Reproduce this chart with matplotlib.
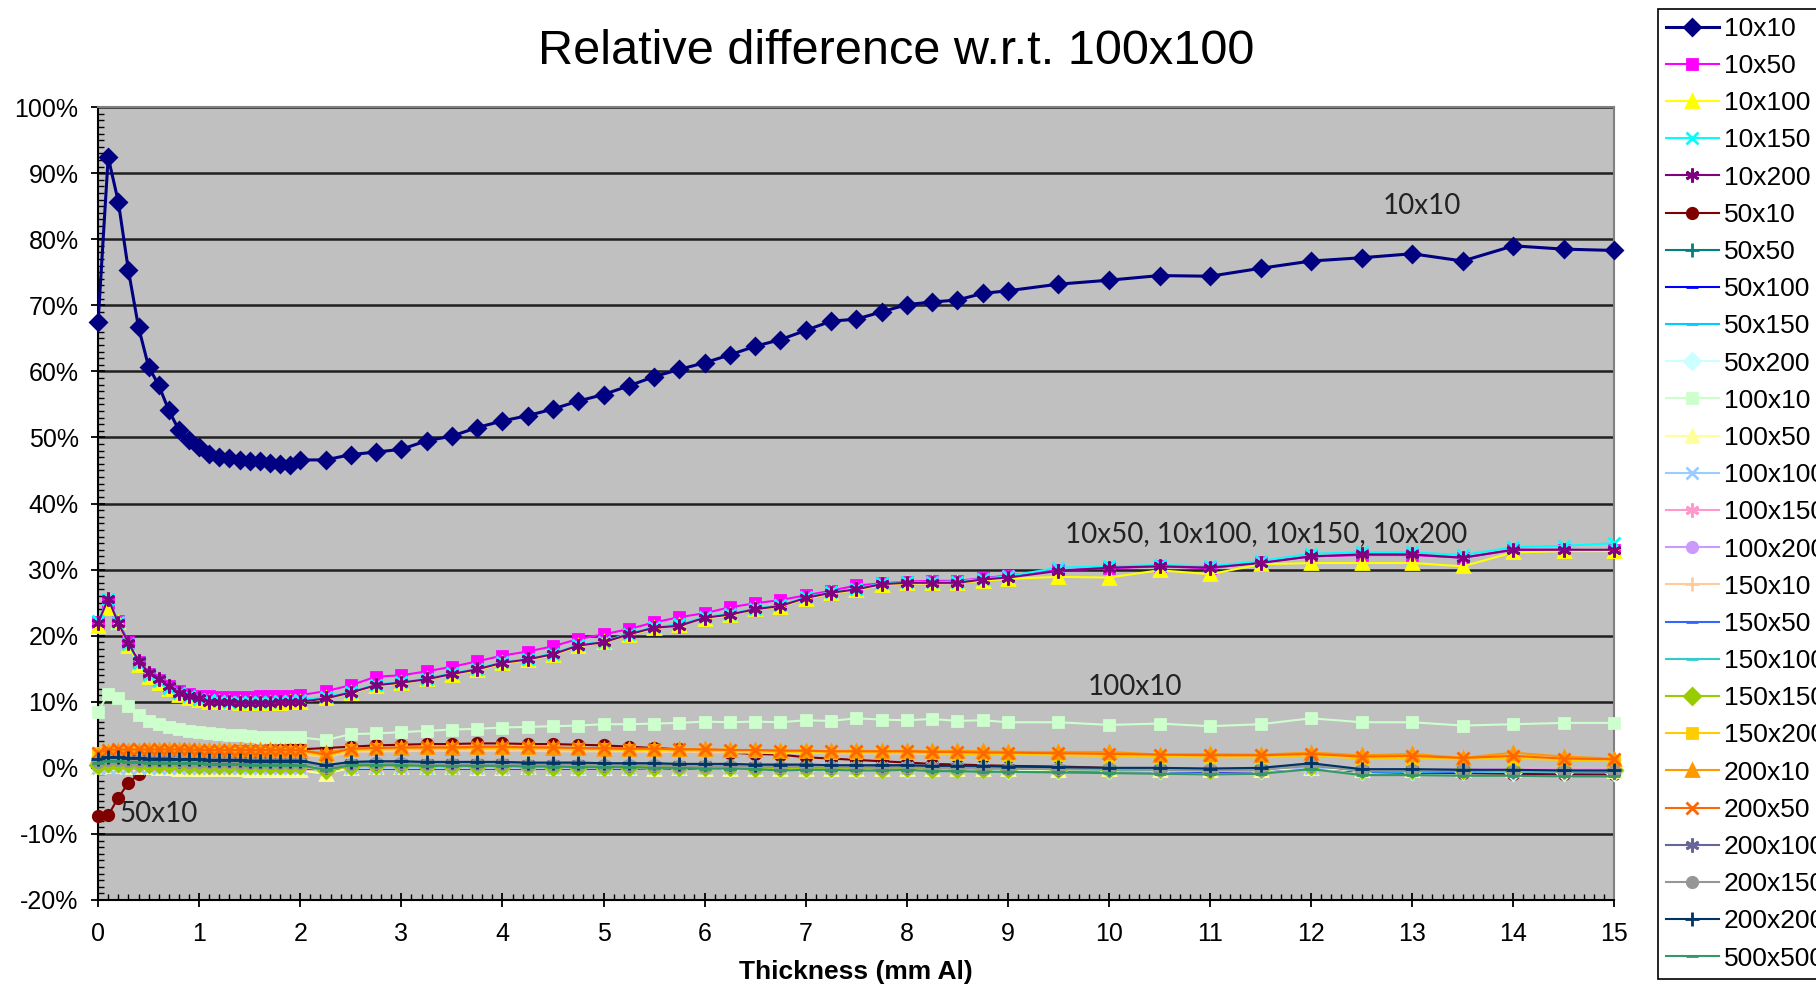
import matplotlib
matplotlib.use("Agg")
import matplotlib.pyplot as plt
from matplotlib.ticker import MultipleLocator, FuncFormatter

plt.rcParams['font.family'] = ['Liberation Sans', 'DejaVu Sans']

# thickness grid (mm Al)
thickness = [0.0, 0.1, 0.2, 0.3, 0.4, 0.5, 0.6, 0.7, 0.8, 0.9, 1.0, 1.1, 1.2, 1.3, 1.4, 1.5, 1.6, 1.7, 1.8, 1.9, 2.0,
             2.25, 2.5, 2.75, 3.0, 3.25, 3.5, 3.75, 4.0, 4.25, 4.5, 4.75, 5.0, 5.25, 5.5, 5.75, 6.0, 6.25, 6.5, 6.75,
             7.0, 7.25, 7.5, 7.75, 8.0, 8.25, 8.5, 8.75, 9.0,
             9.5, 10.0, 10.5, 11.0, 11.5, 12.0, 12.5, 13.0, 13.5, 14.0, 14.5, 15.0]

# relative difference in %
d_10x10 = [67.4, 92.4, 85.7, 75.3, 66.7, 60.7, 57.9, 54.1, 51.1, 49.6, 48.6, 47.5, 47.1, 46.9, 46.6, 46.4, 46.4, 46.1, 46.0, 45.9, 46.6,
           46.6, 47.4, 47.8, 48.2, 49.5, 50.2, 51.5, 52.5, 53.3, 54.3, 55.5, 56.5, 57.8, 59.2, 60.3, 61.3, 62.5, 63.8, 64.8,
           66.2, 67.6, 67.9, 69.0, 70.1, 70.5, 70.8, 71.8, 72.2,
           73.2, 73.8, 74.5, 74.4, 75.6, 76.7, 77.2, 77.8, 76.7, 79.0, 78.5, 78.3]
d_10x50 = [22.0, 25.0, 22.2, 19.0, 16.0, 14.2, 13.3, 12.4, 11.6, 11.1, 10.9, 10.8, 10.7, 10.7, 10.7, 10.7, 10.8, 10.8, 10.9, 10.9, 11.0,
           11.6, 12.5, 13.8, 14.0, 14.6, 15.3, 16.1, 17.0, 17.6, 18.4, 19.5, 20.2, 21.0, 22.0, 22.8, 23.4, 24.3, 24.9, 25.4,
           26.1, 26.8, 27.6, 27.9, 28.2, 28.3, 28.3, 28.7, 29.1,
           29.9, 30.2, 30.5, 30.2, 31.1, 32.0, 32.2, 32.2, 31.8, 33.0, 33.0, 32.9]
d_10x100 = [21.5, 24.2, 22.0, 18.5, 15.6, 13.8, 12.8, 11.9, 11.0, 10.5, 10.2, 10.0, 9.9, 9.9, 9.8, 9.8, 9.8, 9.8, 9.8, 9.9, 10.0,
            10.5, 11.3, 12.4, 12.8, 13.4, 14.1, 14.8, 15.8, 16.3, 17.1, 18.4, 19.0, 20.1, 21.1, 21.6, 22.6, 23.1, 24.0, 24.4,
            25.6, 26.4, 26.9, 27.7, 27.9, 27.9, 28.0, 28.3, 28.6,
            28.9, 28.8, 29.9, 29.3, 30.8, 31.0, 31.0, 31.0, 30.5, 32.6, 32.8, 32.8]
d_10x150 = [22.2, 25.6, 22.1, 18.8, 15.9, 14.0, 13.1, 12.1, 11.3, 10.8, 10.4, 10.2, 10.1, 10.0, 10.0, 10.0, 10.0, 10.0, 10.1, 10.1, 10.3,
            10.7, 11.5, 12.6, 13.0, 13.5, 14.3, 15.0, 16.0, 16.5, 17.3, 18.6, 19.1, 20.3, 21.3, 21.7, 22.8, 23.3, 24.1, 24.6,
            25.8, 26.6, 27.1, 27.9, 28.1, 28.1, 28.2, 28.6, 29.0,
            30.3, 30.5, 30.7, 30.5, 31.3, 32.4, 32.6, 32.6, 32.2, 33.4, 33.6, 34.0]
d_10x200 = [21.9, 25.6, 21.9, 18.9, 16.2, 14.4, 13.4, 12.4, 11.4, 10.9, 10.5, 10.0, 9.9, 9.9, 9.8, 9.8, 9.8, 9.8, 9.9, 9.9, 10.0,
            10.5, 11.4, 12.5, 12.9, 13.4, 14.2, 14.9, 15.9, 16.4, 17.2, 18.5, 19.0, 20.2, 21.2, 21.5, 22.7, 23.2, 24.0, 24.5,
            25.7, 26.5, 27.0, 27.8, 28.0, 28.0, 28.0, 28.5, 28.8,
            29.8, 30.3, 30.5, 30.3, 31.0, 32.0, 32.3, 32.3, 31.8, 33.0, 33.0, 33.0]
d_50x10 = [-7.3, -7.2, -4.5, -2.3, -1.0, 0.2, 1.0, 1.5, 1.8, 2.0, 2.2, 2.3, 2.4, 2.5, 2.5, 2.6, 2.6, 2.7, 2.7, 2.8, 2.8,
           3.0, 3.2, 3.4, 3.5, 3.6, 3.6, 3.7, 3.7, 3.6, 3.6, 3.5, 3.4, 3.2, 3.0, 2.8, 2.6, 2.3, 2.1, 2.0,
           1.6, 1.4, 1.2, 1.0, 0.8, 0.6, 0.5, 0.4, 0.3,
           0.2, 0.0, -0.2, -0.3, -0.4, 0.2, -0.6, -0.7, -0.8, -0.9, -1.0, -1.0]
d_50x50 = [1.0, 1.3, 1.2, 1.2, 1.1, 1.1, 1.0, 1.0, 1.0, 0.9, 0.9, 0.9, 0.9, 0.8, 0.8, 0.8, 0.8, 0.8, 0.7, 0.7, 0.7,
           0.0, 0.6, 0.7, 0.7, 0.6, 0.6, 0.6, 0.6, 0.5, 0.5, 0.5, 0.4, 0.4, 0.4, 0.3, 0.3, 0.2, 0.2, 0.0,
           0.1, 0.1, 0.1, 0.0, 0.1, 0.0, 0.0, -0.1, -0.1,
           -0.2, -0.3, -0.3, -0.4, -0.3, 0.3, -0.5, -0.5, -0.5, -0.6, -0.6, -0.7]
d_50x100 = [0.8, 1.1, 1.1, 1.0, 1.0, 0.9, 0.9, 0.9, 0.8, 0.8, 0.8, 0.8, 0.7, 0.7, 0.7, 0.7, 0.7, 0.6, 0.6, 0.6, 0.6,
            -0.1, 0.5, 0.5, 0.5, 0.5, 0.4, 0.4, 0.4, 0.4, 0.3, 0.3, 0.3, 0.2, 0.2, 0.2, 0.1, 0.1, 0.0, -0.1,
            0.0, 0.0, -0.1, -0.1, 0.0, -0.2, -0.2, -0.2, -0.3,
            -0.4, -0.5, -0.5, -0.6, -0.5, 0.2, -0.6, -0.7, -0.6, -0.8, -0.8, -0.8]
d_50x150 = [0.9, 1.2, 1.1, 1.1, 1.0, 1.0, 0.9, 0.9, 0.9, 0.8, 0.8, 0.8, 0.8, 0.7, 0.7, 0.7, 0.7, 0.7, 0.6, 0.6, 0.6,
            0.0, 0.5, 0.6, 0.6, 0.5, 0.5, 0.4, 0.4, 0.4, 0.4, 0.3, 0.3, 0.3, 0.2, 0.2, 0.1, 0.1, 0.0, -0.1,
            0.0, -0.1, -0.1, -0.2, -0.1, -0.2, -0.2, -0.3, -0.3,
            -0.4, -0.4, -0.5, -0.5, -0.4, 0.3, -0.5, -0.6, -0.5, -0.6, -0.7, -0.7]
d_50x200 = [0.6, 0.9, 0.9, 0.8, 0.8, 0.8, 0.7, 0.7, 0.7, 0.7, 0.6, 0.6, 0.6, 0.6, 0.6, 0.5, 0.5, 0.5, 0.5, 0.5, 0.5,
            -0.2, 0.4, 0.4, 0.4, 0.4, 0.3, 0.3, 0.3, 0.3, 0.2, 0.2, 0.2, 0.2, 0.1, 0.1, 0.1, 0.0, 0.0, -0.1,
            -0.1, -0.1, -0.1, -0.2, -0.1, -0.2, -0.2, -0.2, -0.3,
            -0.3, -0.4, -0.4, -0.4, -0.4, 0.1, -0.5, -0.5, -0.5, -0.6, -0.6, -0.6]
d_100x10 = [8.5, 11.2, 10.6, 9.3, 8.0, 7.1, 6.6, 6.2, 5.9, 5.6, 5.4, 5.2, 5.1, 5.0, 4.9, 4.8, 4.7, 4.7, 4.6, 4.6, 4.6,
            4.2, 5.1, 5.2, 5.4, 5.6, 5.8, 5.9, 6.1, 6.2, 6.3, 6.4, 6.6, 6.6, 6.7, 6.8, 7.0, 6.9, 7.0, 6.9,
            7.2, 7.1, 7.5, 7.3, 7.2, 7.4, 7.1, 7.2, 6.9,
            6.9, 6.5, 6.7, 6.3, 6.6, 7.5, 6.9, 6.9, 6.4, 6.6, 6.8, 6.8]
d_100x50 = [0.2, 0.3, 0.3, 0.2, 0.2, 0.1, 0.0, 0.0, -0.1, -0.1, -0.1, -0.2, -0.2, -0.2, -0.2, -0.3, -0.3, -0.3, -0.3, -0.4, -0.4,
            -0.9, 0.0, 0.1, 0.1, 0.1, 0.1, 0.0, 0.0, 0.1, 0.0, 0.0, 0.0, 0.0, -0.1, 0.0, -0.1, -0.1, -0.1, -0.2,
            -0.1, -0.1, -0.2, -0.1, -0.2, -0.2, -0.2, -0.2, -0.2,
            -0.3, -0.2, -0.3, -0.3, -0.3, 0.0, -0.4, -0.3, -0.4, -0.4, -0.4, -0.5]
d_100x100 = [0.0, 0.0, 0.0, 0.0, 0.0, 0.0, 0.0, 0.0, 0.0, 0.0, 0.0, 0.0, 0.0, 0.0, 0.0, 0.0, 0.0, 0.0, 0.0, 0.0, 0.0,
             0.0, 0.0, 0.0, 0.0, 0.0, 0.0, 0.0, 0.0, 0.0, 0.0, 0.0, 0.0, 0.0, 0.0, 0.0, 0.0, 0.0, 0.0, 0.0,
             0.0, 0.0, 0.0, 0.0, 0.0, 0.0, 0.0, 0.0, 0.0,
             0.0, 0.0, 0.0, 0.0, 0.0, 0.0, 0.0, 0.0, 0.0, 0.0, 0.0, 0.0]
d_100x150 = [0.3, 0.5, 0.5, 0.4, 0.4, 0.4, 0.3, 0.3, 0.3, 0.3, 0.3, 0.2, 0.2, 0.2, 0.2, 0.2, 0.2, 0.2, 0.2, 0.1, 0.1,
             -0.3, 0.2, 0.2, 0.2, 0.2, 0.1, 0.1, 0.1, 0.1, 0.1, 0.1, 0.1, 0.1, 0.0, 0.0, 0.0, 0.0, 0.0, 0.0,
             0.0, 0.0, 0.0, -0.1, 0.0, -0.1, -0.1, 0.0, -0.1,
             -0.1, -0.1, -0.1, -0.1, -0.1, 0.2, -0.1, -0.2, -0.1, -0.2, -0.2, -0.2]
d_100x200 = [0.4, 0.6, 0.6, 0.5, 0.5, 0.5, 0.4, 0.4, 0.4, 0.4, 0.3, 0.3, 0.3, 0.3, 0.3, 0.3, 0.3, 0.2, 0.2, 0.2, 0.2,
             -0.2, 0.3, 0.3, 0.3, 0.2, 0.2, 0.2, 0.2, 0.2, 0.2, 0.1, 0.1, 0.1, 0.1, 0.1, 0.0, 0.1, 0.0, 0.0,
             0.0, 0.0, 0.0, -0.1, 0.0, -0.1, -0.1, -0.1, -0.1,
             -0.2, -0.2, -0.2, -0.2, -0.2, 0.2, -0.2, -0.3, -0.2, -0.3, -0.3, -0.3]
d_150x10 = [1.6, 2.0, 2.1, 2.1, 2.1, 2.1, 2.1, 2.1, 2.1, 2.1, 2.1, 2.1, 2.1, 2.1, 2.1, 2.1, 2.1, 2.1, 2.1, 2.1, 2.1,
            1.6, 2.4, 2.5, 2.5, 2.6, 2.6, 2.6, 2.6, 2.6, 2.5, 2.5, 2.5, 2.5, 2.4, 2.4, 2.4, 2.3, 2.3, 2.2,
            2.3, 2.2, 2.2, 2.2, 2.2, 2.1, 2.1, 2.1, 2.1,
            2.1, 2.0, 1.9, 1.9, 1.8, 2.1, 1.7, 1.7, 1.6, 1.7, 1.5, 1.4]
d_150x50 = [1.2, 1.5, 1.5, 1.4, 1.4, 1.3, 1.3, 1.3, 1.2, 1.2, 1.2, 1.1, 1.1, 1.1, 1.1, 1.0, 1.0, 1.0, 1.0, 1.0, 1.0,
            0.3, 0.8, 0.9, 0.9, 0.8, 0.8, 0.8, 0.8, 0.7, 0.7, 0.7, 0.6, 0.6, 0.6, 0.5, 0.5, 0.4, 0.4, 0.3,
            0.3, 0.3, 0.3, 0.2, 0.3, 0.2, 0.2, 0.1, 0.1,
            0.0, -0.1, -0.1, -0.2, -0.1, 0.5, -0.3, -0.3, -0.3, -0.4, -0.4, -0.5]
d_150x100 = [1.0, 1.3, 1.3, 1.2, 1.2, 1.1, 1.1, 1.1, 1.0, 1.0, 1.0, 1.0, 0.9, 0.9, 0.9, 0.9, 0.9, 0.8, 0.8, 0.8, 0.8,
             0.1, 0.7, 0.7, 0.7, 0.7, 0.6, 0.6, 0.6, 0.5, 0.5, 0.5, 0.4, 0.4, 0.4, 0.3, 0.3, 0.2, 0.2, 0.1,
             0.2, 0.1, 0.1, 0.0, 0.1, 0.0, 0.0, -0.1, -0.1,
             -0.2, -0.3, -0.3, -0.4, -0.3, 0.4, -0.5, -0.5, -0.5, -0.6, -0.6, -0.7]
d_150x150 = [0.5, 0.8, 0.8, 0.7, 0.7, 0.6, 0.6, 0.6, 0.6, 0.5, 0.5, 0.5, 0.5, 0.5, 0.4, 0.4, 0.4, 0.4, 0.4, 0.4, 0.4,
             -0.4, 0.3, 0.4, 0.4, 0.3, 0.3, 0.3, 0.3, 0.3, 0.2, 0.2, 0.2, 0.2, 0.1, 0.1, 0.1, 0.1, 0.0, 0.0,
             0.0, 0.0, 0.0, -0.1, 0.0, -0.1, -0.1, -0.1, -0.1,
             -0.2, -0.2, -0.2, -0.3, -0.2, 0.3, -0.3, -0.3, -0.3, -0.4, -0.4, -0.4]
d_150x200 = [2.2, 2.6, 2.6, 2.6, 2.6, 2.5, 2.5, 2.5, 2.5, 2.5, 2.5, 2.5, 2.5, 2.5, 2.4, 2.4, 2.4, 2.4, 2.4, 2.4, 2.4,
             1.8, 2.7, 2.8, 2.8, 2.9, 2.9, 2.9, 2.9, 2.9, 2.8, 2.8, 2.8, 2.7, 2.7, 2.6, 2.6, 2.5, 2.5, 2.4,
             2.4, 2.3, 2.3, 2.2, 2.3, 2.2, 2.1, 2.1, 2.0,
             1.9, 1.8, 1.7, 1.6, 1.6, 1.9, 1.4, 1.4, 1.3, 1.4, 1.2, 1.1]
d_200x10 = [2.0, 2.4, 2.5, 2.6, 2.6, 2.7, 2.7, 2.7, 2.7, 2.7, 2.7, 2.7, 2.7, 2.7, 2.7, 2.7, 2.7, 2.7, 2.6, 2.6, 2.6,
            2.3, 2.9, 3.0, 3.0, 3.1, 3.0, 3.1, 3.1, 3.1, 3.0, 3.0, 2.8, 2.9, 2.9, 2.8, 2.8, 2.7, 2.7, 2.6,
            2.6, 2.5, 2.6, 2.5, 2.6, 2.5, 2.6, 2.5, 2.4,
            2.4, 2.4, 2.0, 2.1, 2.0, 2.3, 1.9, 2.1, 1.5, 2.3, 1.7, 1.4]
d_200x50 = [2.3, 2.7, 2.8, 2.8, 2.8, 2.8, 2.8, 2.8, 2.8, 2.8, 2.7, 2.7, 2.7, 2.7, 2.7, 2.7, 2.7, 2.7, 2.7, 2.7, 2.7,
            2.0, 2.9, 3.0, 3.1, 3.1, 3.1, 3.2, 3.2, 3.1, 3.1, 3.0, 3.0, 2.9, 2.9, 2.8, 2.8, 2.7, 2.7, 2.6,
            2.6, 2.5, 2.5, 2.5, 2.5, 2.4, 2.4, 2.3, 2.3,
            2.2, 2.1, 2.0, 1.9, 1.9, 2.1, 1.7, 1.8, 1.5, 1.8, 1.4, 1.3]
d_200x100 = [1.1, 1.4, 1.4, 1.3, 1.3, 1.2, 1.2, 1.2, 1.1, 1.1, 1.1, 1.1, 1.0, 1.0, 1.0, 1.0, 1.0, 0.9, 0.9, 0.9, 0.9,
             0.2, 0.7, 0.8, 0.8, 0.7, 0.7, 0.7, 0.7, 0.6, 0.6, 0.6, 0.5, 0.5, 0.5, 0.4, 0.4, 0.3, 0.3, 0.2,
             0.3, 0.2, 0.2, 0.1, 0.2, 0.1, 0.1, 0.0, 0.0,
             -0.1, -0.2, -0.2, -0.3, -0.2, 0.4, -0.4, -0.4, -0.4, -0.5, -0.5, -0.6]
d_200x150 = [0.9, 1.2, 1.2, 1.1, 1.1, 1.0, 1.0, 1.0, 1.0, 0.9, 0.9, 0.9, 0.9, 0.9, 0.8, 0.8, 0.8, 0.8, 0.8, 0.8, 0.8,
             0.1, 0.6, 0.7, 0.7, 0.6, 0.6, 0.6, 0.6, 0.5, 0.5, 0.5, 0.4, 0.4, 0.4, 0.3, 0.3, 0.3, 0.2, 0.1,
             0.2, 0.1, 0.1, 0.0, 0.1, 0.0, 0.0, -0.1, -0.1,
             -0.2, -0.2, -0.3, -0.3, -0.3, 0.4, -0.4, -0.4, -0.4, -0.5, -0.5, -0.5]
d_200x200 = [1.3, 1.6, 1.6, 1.5, 1.5, 1.4, 1.4, 1.4, 1.3, 1.3, 1.3, 1.2, 1.2, 1.2, 1.2, 1.1, 1.1, 1.1, 1.1, 1.1, 1.1,
             0.4, 0.9, 1.0, 1.0, 0.9, 0.9, 0.9, 0.9, 0.8, 0.8, 0.8, 0.7, 0.7, 0.7, 0.6, 0.6, 0.6, 0.5, 0.5,
             0.5, 0.4, 0.4, 0.4, 0.4, 0.3, 0.3, 0.3, 0.2,
             0.1, 0.0, 0.0, -0.1, 0.0, 0.7, -0.2, -0.2, -0.3, -0.3, -0.4, -0.4]
d_500x500 = [0.8, 1.0, 1.0, 0.9, 0.9, 0.8, 0.8, 0.8, 0.7, 0.7, 0.7, 0.6, 0.6, 0.6, 0.6, 0.5, 0.5, 0.5, 0.5, 0.5, 0.4,
             -0.3, 0.4, 0.4, 0.4, 0.3, 0.3, 0.3, 0.3, 0.2, 0.2, 0.1, 0.1, 0.1, 0.0, 0.0, -0.1, -0.1, -0.2, -0.4,
             -0.3, -0.3, -0.4, -0.4, -0.3, -0.5, -0.5, -0.6, -0.6,
             -0.7, -0.8, -0.9, -1.0, -0.9, -0.2, -1.1, -1.1, -1.2, -1.2, -1.3, -1.3]

names = ["10x10", "10x50", "10x100", "10x150", "10x200",
         "50x10", "50x50", "50x100", "50x150", "50x200",
         "100x10", "100x50", "100x100", "100x150", "100x200",
         "150x10", "150x50", "150x100", "150x150", "150x200",
         "200x10", "200x50", "200x100", "200x150", "200x200", "500x500"]
series = [d_10x10, d_10x50, d_10x100, d_10x150, d_10x200,
          d_50x10, d_50x50, d_50x100, d_50x150, d_50x200,
          d_100x10, d_100x50, d_100x100, d_100x150, d_100x200,
          d_150x10, d_150x50, d_150x100, d_150x150, d_150x200,
          d_200x10, d_200x50, d_200x100, d_200x150, d_200x200, d_500x500]

# old excel palette
colors = ["#000080", "#FF00FF", "#FFFF00", "#00FFFF", "#800080",
          "#800000", "#008080", "#0000FF", "#00CCFF", "#CCFFFF",
          "#CCFFCC", "#FFFF99", "#99CCFF", "#FF99CC", "#CC99FF",
          "#FFCC99", "#3366FF", "#33CCCC", "#99CC00", "#FFCC00",
          "#FF9900", "#FF6600", "#666699", "#969696", "#003366", "#339966"]
star = (6, 2, 0)
marker_cycle = ["D", "s", "^", "x", star, "o", "+", "_", "_"]
marker_size = {"D": 8, "s": 7.5, "^": 8.5, "x": 8, "o": 7.5, "+": 9.5, "_": 8.5}

fig = plt.figure(figsize=(18.16, 9.85), dpi=100)
ax = fig.add_axes([0.054, 0.0863, 0.835, 0.805])
ax.set_facecolor("#C0C0C0")

for i in range(0, len(series)):
	mk = marker_cycle[i % len(marker_cycle)]
	filled = mk in ("D", "s", "^", "o")
	ms = marker_size.get(mk, 10) if isinstance(mk, str) else 10
	lw = 2.2 if i == 0 else 1.5
	ax.plot(thickness, series[i], color=colors[i], lw=lw, marker=mk, ms=ms,
	        mfc=colors[i] if filled else "none", mec=colors[i], mew=2.0,
	        label=names[i], clip_on=False, zorder=3)

ax.set_xlim(0, 15)
ax.set_ylim(-20, 100)
ax.xaxis.set_major_locator(MultipleLocator(1))
ax.xaxis.set_minor_locator(MultipleLocator(0.1))
ax.yaxis.set_major_locator(MultipleLocator(10))
ax.yaxis.set_minor_locator(MultipleLocator(1))
ax.yaxis.set_major_formatter(FuncFormatter(lambda v, p: "%d%%" % round(v)))
ax.grid(axis="y", which="major", color="#202020", lw=1.8, zorder=1)
ax.set_axisbelow(True)

for side in ["top", "right"]:
	ax.spines[side].set_color("#808080")
	ax.spines[side].set_linewidth(1.5)
for side in ["left", "bottom"]:
	ax.spines[side].set_color("black")
	ax.spines[side].set_linewidth(1.5)

ax.tick_params(axis="both", which="major", direction="inout", length=10, width=1.3, labelsize=18, colors="black")
ax.tick_params(axis="both", which="minor", direction="in", length=4, width=1.0)
ax.tick_params(axis="y", which="major", pad=9)
ax.tick_params(axis="x", which="major", pad=11)

ax.set_xlabel("Thickness (mm Al)", fontsize=19, fontweight="bold", labelpad=10)
fig.text(0.4934, 1 - 52 / 985, "Relative difference w.r.t. 100x100", fontsize=35, ha="center", va="center")

note_font = ["Lato", "DejaVu Sans"]
ax.text(13.1, 85, "10x10", fontsize=20, family=note_font, color="#222222", ha="center", va="center")
ax.text(11.55, 35.4, "10x50, 10x100, 10x150, 10x200", fontsize=20, family=note_font, color="#222222", ha="center", va="center")
ax.text(10.26, 12.3, "100x10", fontsize=20, family=note_font, color="#222222", ha="center", va="center")
ax.text(0.21, -7.0, "50x10", fontsize=20, family=note_font, color="#222222", ha="left", va="center")

handles, labels = ax.get_legend_handles_labels()
leg = fig.legend(handles, labels, loc="upper left", bbox_to_anchor=(0.913, 0.991), fontsize=19,
                 frameon=True, fancybox=False, edgecolor="black", framealpha=1, labelspacing=0.5,
                 handlelength=2.0, handletextpad=0.2, borderpad=0.3, borderaxespad=0)
leg.get_frame().set_linewidth(1.2)

fig.savefig("out.png", dpi=100)
